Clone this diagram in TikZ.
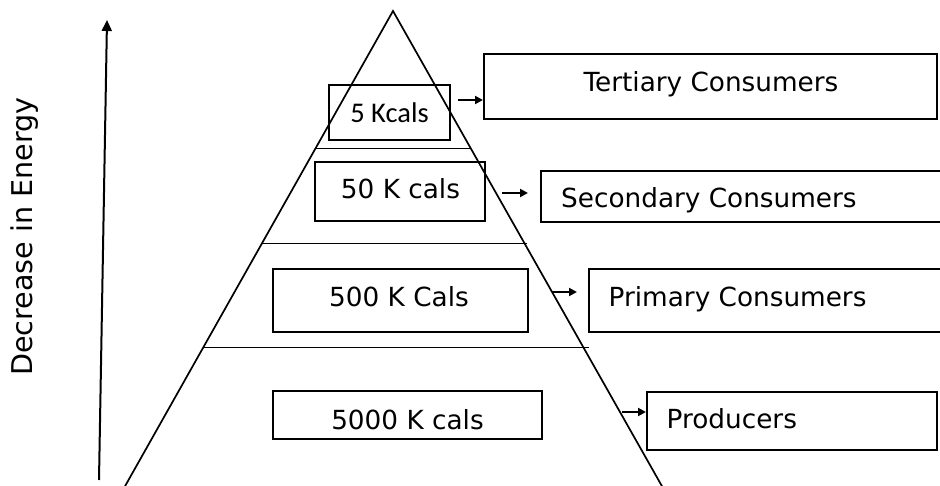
\documentclass[tikz,border=0pt]{standalone}
\usepackage{fontspec}
\setmainfont{DejaVu Sans}
\newfontfamily\carlitofont{Carlito}
\usetikzlibrary{arrows.meta}
\begin{document}
\begin{tikzpicture}[x=1pt,y=-1pt,
  boxnode/.style={draw,line width=2pt,inner sep=0pt,rectangle},
  lbl/.style={inner sep=0pt,font=\fontsize{26.3}{30}\selectfont},
  tri/.style={line width=1.7pt},
  arr/.style={line width=2.2pt,-{Triangle[length=8pt,width=8pt]}},
  bigarr/.style={line width=2pt,-{Triangle[length=11pt,width=10pt]}}]
\useasboundingbox (0,0) rectangle (940,486);
\clip (0,0) rectangle (940,486);
% pyramid
\coordinate (apex) at (393,11);
\coordinate (bl) at (124,488);
\coordinate (br) at (663,488);
\draw[tri] (bl) -- (apex) -- (br);
\coordinate (h1a) at (315,148.5); \coordinate (h1b) at (471,148.5);
\coordinate (h2a) at (262,243.5); \coordinate (h2b) at (527,243.5);
\coordinate (h3a) at (203,347.5); \coordinate (h3b) at (589,347.5);
\draw[tri] (h1a) -- (h1b);
\draw[tri] (h2a) -- (h2b);
\draw[tri] (h3a) -- (h3b);
% energy boxes
\node[boxnode,minimum width=121,minimum height=55] (k5) at (389.5,112.5) {};
\node[boxnode,minimum width=170,minimum height=59] (k50) at (400,191.5) {};
\node[boxnode,minimum width=255,minimum height=63] (k500) at (400.5,300.5) {};
\node[boxnode,minimum width=269,minimum height=48] (k5000) at (407.5,415) {};
% level boxes
\node[boxnode,minimum width=453,minimum height=65] (tert) at (710.5,86.5) {};
\node[boxnode,minimum width=405,minimum height=51] (sec) at (743.5,196.5) {};
\node[boxnode,minimum width=357,minimum height=63] (prim) at (767.5,300.5) {};
\node[boxnode,minimum width=290,minimum height=58] (prod) at (792,421) {};
% texts
\node[inner sep=0pt,anchor=base,font=\carlitofont\fontsize{28.5}{32}\selectfont] (t5) at (389.5,123) {5 Kcals};
\node[lbl,anchor=base] (t50) at (400.5,199) {50 K cals};
\node[lbl,anchor=base] (t500) at (399,307) {500 K Cals};
\node[lbl,anchor=base] (t5000) at (407.5,429) {5000 K cals};
\node[lbl,anchor=base] (ttert) at (711,92) {Tertiary Consumers};
\node[lbl,anchor=base west] (tsec) at (561,208) {Secondary Consumers};
\node[lbl,anchor=base west] (tprim) at (608.5,307) {Primary Consumers};
\node[lbl,anchor=base west] (tprod) at (666.5,428) {Producers};
\node[inner sep=0pt,anchor=base,rotate=90,font=\fontsize{28.6}{32}\selectfont] (energy) at (32,236.5) {Decrease in Energy};
% arrows
\coordinate (a1) at (458,100);
\draw[arr] (a1) -- (tert.west |- a1);
\coordinate (a2) at (502,193); \coordinate (a2e) at (528,193);
\draw[arr] (a2) -- (a2e);
\coordinate (a3) at (552,292); \coordinate (a3e) at (577,292);
\draw[arr] (a3) -- (a3e);
\coordinate (a4) at (622,412);
\draw[arr] (a4) -- (prod.west |- a4);
\coordinate (up0) at (99,480); \coordinate (up1) at (107,20);
\draw[bigarr] (up0) -- (up1);
\end{tikzpicture}
\end{document}
